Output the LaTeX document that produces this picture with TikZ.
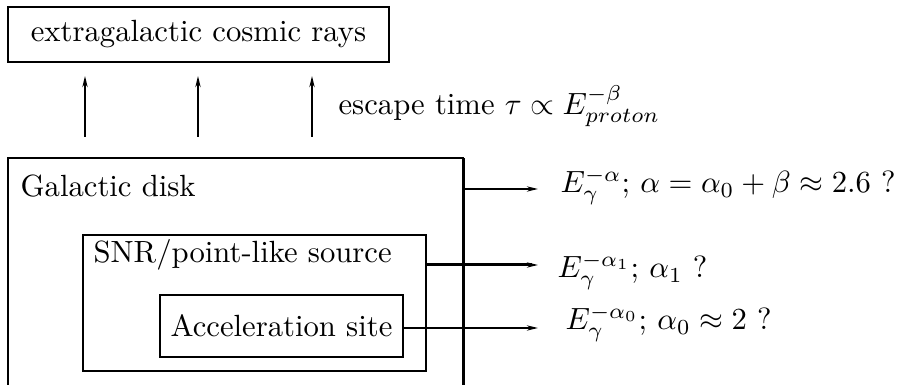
\documentclass[tikz,border=0pt]{standalone}
\usetikzlibrary{arrows.meta}
\newlength\pxu
\setlength\pxu{0.326pt}
\begin{document}
\begin{tikzpicture}[x=\pxu,y=-\pxu,
  box/.style={draw,line width=2\pxu,rectangle,inner sep=0pt},
  lbl/.style={anchor=base west,inner sep=0pt},
  arr/.style={line width=2\pxu,-{Stealth[length=3.6pt,width=1.7pt]}}]
\useasboundingbox (0,0) rectangle (898,385);
% top box
\node[box,minimum width=381\pxu,minimum height=55\pxu] (egcr) at (198.5,34.5) {extragalactic cosmic rays};
% galactic disk (open at bottom)
\node[rectangle,inner sep=0pt,minimum width=454\pxu,minimum height=225\pxu] (disk) at (236,271.5) {};
\draw[line width=2\pxu] (disk.south west) -- (disk.north west) -- (disk.north east);
\draw[line width=3\pxu] (disk.north east) -- (disk.south east);
\node[lbl] (disklbl) at (20,197) {Galactic disk};
% SNR box
\node[box,minimum width=343\pxu,minimum height=136\pxu] (snr) at (254.5,303) {};
\node[lbl] (snrlbl) at (93,263) {SNR/point-like source};
% acceleration site
\node[box,minimum width=243\pxu,minimum height=62\pxu] (acc) at (281.5,326) {Acceleration site};
% escape arrows
\coordinate (u1a) at (85,137); \coordinate (u1b) at (85,76);
\coordinate (u2a) at (198,137); \coordinate (u2b) at (198,76);
\coordinate (u3a) at (312,137); \coordinate (u3b) at (312,76);
\draw[arr] (u1a) -- (u1b);
\draw[arr] (u2a) -- (u2b);
\draw[arr] (u3a) -- (u3b);
\node[lbl] (esc) at (338,115) {escape time $\tau\propto E_{proton}^{-\beta}$};
% outgoing arrows
\coordinate (e1) at (538,189);
\coordinate (e2) at (538,265);
\coordinate (e3) at (538,328);
\draw[arr] (disk.east |- e1) -- (e1);
\draw[arr,line width=3\pxu] (snr.east |- e2) -- (e2);
\draw[arr] (acc.east |- e3) -- (e3);
\node[lbl] (l1) at (560,193) {$E_\gamma^{-\alpha}$; $\alpha=\alpha_0+\beta\approx2.6$ ?};
\node[lbl] (l2) at (557,278) {$E_\gamma^{-\alpha_1}$; $\alpha_1$ ?};
\node[lbl] (l3) at (565,330) {$E_\gamma^{-\alpha_0}$; $\alpha_0\approx2$ ?};
\end{tikzpicture}
\end{document}
